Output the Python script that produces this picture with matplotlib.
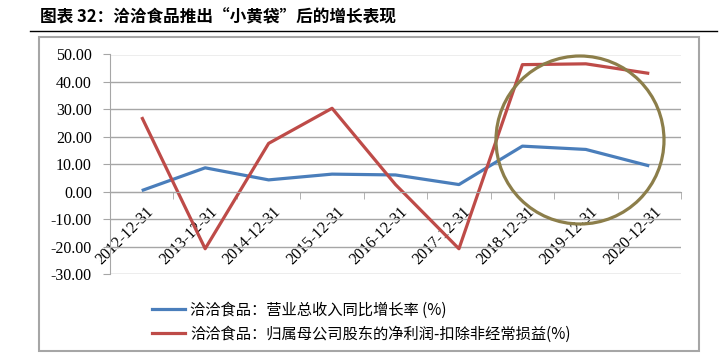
import matplotlib
matplotlib.use('Agg')
import matplotlib.pyplot as plt
from matplotlib.patches import Ellipse, Rectangle
from matplotlib.lines import Line2D
from matplotlib.transforms import ScaledTranslation

plt.rcParams['font.family'] = ['Noto Sans CJK SC', 'DejaVu Sans']

# Data
# ----------------------------------------------------------------------------
dates = ['2012-12-31', '2013-12-31', '2014-12-31', '2015-12-31', '2016-12-31',
         '2017-12-31', '2018-12-31', '2019-12-31', '2020-12-31']
revenue_growth = [0.4, 8.7, 4.3, 6.4, 6.1, 2.6, 16.6, 15.4, 9.4]
profit_growth = [27.2, -20.8, 17.6, 30.4, 2.6, -20.8, 46.3, 46.6, 43.1]

label_rev = '洽洽食品：营业总收入同比增长率 (%)'
label_np = '洽洽食品：归属母公司股东的净利润-扣除非经常损益(%)'
title = '图表 32：洽洽食品推出“小黄袋”后的增长表现'

blue = '#4A7EBB'
red = '#BE4B48'
grid_gray = '#A6A6A6'

# Plot
# ----------------------------------------------------------------------------
fig = plt.figure(figsize=(7.25, 3.56), dpi=100)
ax = fig.add_axes([110 / 725, 82 / 356, 571 / 725, 219.5 / 356])

# spine position first: moving it later resets the tick labels
for side in ['top', 'right']:
    ax.spines[side].set_visible(False)
ax.spines['bottom'].set_position(('data', 0))
ax.spines['bottom'].set_color(grid_gray)
ax.spines['left'].set_color(grid_gray)

x = range(len(dates))
ax.plot(x, revenue_growth, color=blue, lw=2.3, solid_capstyle='butt')
ax.plot(x, profit_growth, color=red, lw=2.3, solid_capstyle='butt')

ax.set_xlim(-0.5, len(dates) - 0.5)
ax.set_ylim(-30, 50)
ax.set_yticks(range(-30, 51, 10))
ax.set_yticklabels(['%.2f' % v for v in range(-30, 51, 10)])
ax.yaxis.grid(True, color=grid_gray, lw=1)
ax.set_axisbelow(True)

ax.set_xticks(list(x))
ax.set_xticklabels(dates)
ax.set_xticks([i + 0.5 for i in range(-1, len(dates))], minor=True)
ax.tick_params(axis='x', which='major', length=0, pad=9)
ax.tick_params(axis='x', which='minor', length=5, color=grid_gray, direction='out')
ax.tick_params(axis='y', length=5, color=grid_gray, pad=8)

shift = ScaledTranslation(4 / 100, 0, fig.dpi_scale_trans)
for lab in ax.get_xticklabels():
    lab.set_transform(lab.get_transform() + shift)
plt.setp(ax.get_xticklabels(), rotation=45, ha='right', va='top',
         rotation_mode='anchor', family='Liberation Serif', fontsize=11.5)
plt.setp(ax.get_yticklabels(), family='Liberation Serif', fontsize=11.5)

# highlight circle around the last three years
fig.patches.append(Ellipse((580 / 725, 1 - 140 / 356), 168 / 725, 168 / 356,
                           transform=fig.transFigure, fill=False,
                           edgecolor='#8C7E4A', lw=2.3, zorder=5))

# legend
handles = [Line2D([], [], color=blue, lw=2.3), Line2D([], [], color=red, lw=2.3)]
fig.legend(handles, [label_rev, label_np], loc='upper left',
           bbox_to_anchor=(138 / 725, 1 - 288 / 356), frameon=False,
           fontsize=11, handlelength=2.2, handletextpad=0.3, labelspacing=0.45)

# outer frame and title
fig.patches.append(Rectangle((39 / 725, 1 - 351 / 356), 660 / 725, 314 / 356,
                             transform=fig.transFigure, fill=False,
                             edgecolor='#A6A6A6', lw=1.5))
fig.add_artist(Line2D([30 / 725, 717 / 725], [1 - 31 / 356, 1 - 31 / 356],
                      transform=fig.transFigure, color='black', lw=1))
fig.text(40 / 725, 1 - 17 / 356, title, fontsize=12, fontweight='bold',
         va='center', ha='left')

fig.savefig('out.png', dpi=100)
